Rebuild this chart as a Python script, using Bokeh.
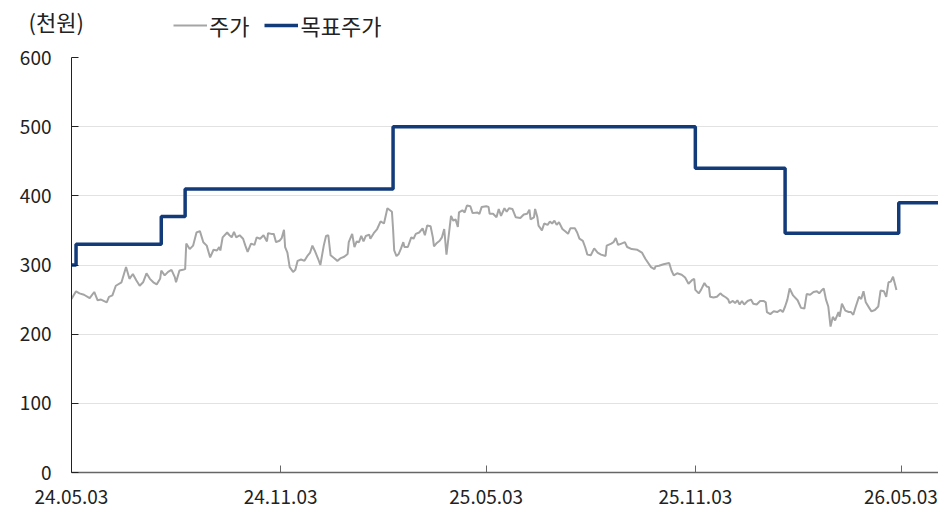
import pandas as pd
from bokeh.plotting import figure
from bokeh.layouts import column
from bokeh.models import (FixedTicker, DatetimeTickFormatter, Legend, LegendItem,
                          Range1d, Label, ColumnDataSource)
from bokeh.embed import file_html
from bokeh.resources import INLINE

START = "2024-05-03"
END_DAY = 763

# 주가 (천원) - day offsets from START and values
price_day = [0, 4, 7, 11, 16, 20, 23, 26, 31, 33, 36, 39, 44, 48, 51, 54, 57, 60, 63, 66, 69, 72, 75, 78, 79,
             82, 85, 88, 91, 92, 95, 98, 100, 101, 104, 107, 110, 113, 116, 119, 122, 125, 128, 130, 131, 133,
             137, 139, 141, 143, 145, 148, 151, 153, 155, 158, 161, 163, 166, 169, 172, 173, 176, 178, 180,
             183, 185, 187, 188, 190, 192, 195, 197, 199, 202, 205, 208, 210, 212, 214, 217, 219, 222, 224,
             226, 228, 231, 234, 237, 240, 243, 244, 247, 249, 251, 253, 255, 257, 259, 262, 263, 266, 269,
             272, 275, 278, 282, 283, 284, 286, 288, 290, 292, 293, 296, 299, 301, 303, 306, 309, 311, 313,
             316, 318, 319, 321, 324, 326, 328, 330, 334, 336, 338, 340, 341, 344, 346, 348, 351, 353, 357,
             359, 361, 365, 367, 368, 371, 374, 376, 378, 381, 383, 385, 388, 391, 395, 398, 401, 403, 404,
             407, 408, 410, 411, 414, 416, 419, 421, 423, 425, 427, 429, 432, 435, 437, 439, 443, 445, 447,
             450, 452, 454, 457, 460, 463, 466, 470, 471, 475, 477, 479, 481, 484, 487, 489, 493, 498, 502,
             505, 510, 513, 514, 517, 521, 526, 528, 530, 533, 537, 540, 543, 546, 548, 549, 552, 554, 557,
             559, 561, 562, 565, 568, 571, 573, 576, 578, 579, 582, 584, 586, 588, 590, 592, 595, 598, 600,
             603, 606, 609, 611, 612, 615, 618, 621, 624, 626, 628, 630, 632, 635, 639, 642, 645, 647, 650,
             653, 656, 658, 660, 662, 664, 666, 668, 670, 672, 675, 676, 678, 681, 684, 686, 688, 690, 693,
             695, 697, 699, 702, 704, 707, 710, 712, 715, 717, 719, 721, 723, 726]
price_val = [251, 262, 259, 257, 252, 261, 249, 250, 246, 254, 256, 270, 275, 297, 280, 287, 278, 270, 275, 288,
             280, 275, 272, 280, 292, 285, 290, 293, 282, 275, 292, 293, 294, 331, 323, 328, 347, 349, 333,
             328, 311, 322, 321, 326, 321, 340, 347, 343, 340, 348, 340, 343, 338, 328, 319, 331, 329, 340,
             338, 343, 334, 346, 345, 345, 333, 335, 339, 351, 326, 318, 297, 290, 293, 306, 308, 306, 314,
             318, 328, 321, 309, 300, 328, 342, 343, 314, 310, 306, 310, 312, 316, 333, 345, 326, 334, 333,
             342, 334, 342, 344, 338, 346, 352, 363, 360, 382, 377, 352, 321, 313, 316, 324, 333, 326, 326,
             340, 338, 345, 347, 353, 343, 357, 356, 340, 327, 331, 335, 340, 352, 315, 371, 364, 366, 355,
             376, 379, 376, 386, 385, 375, 376, 374, 384, 385, 384, 374, 374, 369, 381, 371, 382, 377, 382,
             381, 369, 368, 373, 374, 380, 366, 369, 381, 369, 357, 350, 360, 358, 363, 360, 364, 358, 362,
             352, 348, 345, 353, 353, 347, 338, 335, 326, 315, 314, 324, 318, 315, 313, 328, 331, 333, 339,
             329, 331, 333, 326, 323, 322, 318, 309, 297, 294, 298, 299, 301, 303, 292, 285, 288, 286, 282,
             273, 278, 280, 264, 259, 264, 274, 269, 268, 254, 253, 254, 259, 256, 253, 250, 245, 248, 245,
             249, 243, 248, 243, 248, 250, 244, 243, 248, 248, 246, 232, 229, 233, 232, 235, 232, 240, 250,
             266, 256, 249, 238, 237, 258, 257, 261, 262, 259, 263, 266, 250, 240, 211, 225, 220, 232, 225,
             244, 234, 232, 232, 228, 239, 254, 251, 262, 246, 238, 233, 235, 240, 263, 262, 254, 275, 276,
             283, 264]

# 목표주가 (천원)
target_day = [0, 4, 79, 100, 283, 549, 628, 728, END_DAY]
target_val = [300, 330, 370, 410, 500, 440, 346, 390, 390]

y_ticks = [0, 100, 200, 300, 400, 500, 600]
x_tick_dates = ["2024-05-03", "2024-11-03", "2025-05-03", "2025-11-03", "2026-05-03"]

PRICE_COLOR = "#a5a5a5"
TARGET_COLOR = "#133b7a"
TEXT_COLOR = "#222222"
FONT = "Noto Sans CJK KR"
FS = "19px"
FS_HEAD = "22px"

start = pd.Timestamp(START)
price_src = ColumnDataSource(dict(x=[start + pd.Timedelta(days=d) for d in price_day], y=price_val))
target_src = ColumnDataSource(dict(x=[start + pd.Timedelta(days=d) for d in target_day], y=target_val))

# ---- header (unit label + legend) ----
HEADER_H = 44
h = figure(width=938, height=HEADER_H, output_backend="svg", toolbar_location=None,
           x_range=Range1d(0, 1), y_range=Range1d(0, 1),
           x_axis_location=None, y_axis_location=None, frame_align=False,
           min_border_left=0, min_border_right=0, min_border_top=0, min_border_bottom=0)
h.grid.visible = False
h.outline_line_color = None
leg_price = h.line(x=[5], y=[5], line_color=PRICE_COLOR, line_width=2)
leg_target = h.line(x=[5], y=[5], line_color=TARGET_COLOR, line_width=3.5)
legend = Legend(items=[LegendItem(label="주가", renderers=[leg_price]),
                       LegendItem(label="목표주가", renderers=[leg_target])],
                orientation="horizontal", location=(173, HEADER_H - 41),
                label_text_font=FONT, label_text_font_size=FS_HEAD, label_text_color=TEXT_COLOR,
                glyph_width=34, glyph_height=26, label_standoff=2, spacing=15,
                padding=0, margin=0, border_line_color=None, background_fill_alpha=0)
h.add_layout(legend)
h.add_layout(Label(x=28, y=HEADER_H - 20, x_units="screen", y_units="screen", text="(천원)",
                   text_font=FONT, text_font_size=FS_HEAD, text_color=TEXT_COLOR,
                   text_baseline="middle"))

# ---- main chart ----
p = figure(width=938, height=518 - HEADER_H, x_axis_type="datetime", output_backend="svg",
           toolbar_location=None, frame_align=False,
           x_range=Range1d(start, start + pd.Timedelta(days=END_DAY)), y_range=Range1d(0, 600),
           min_border_left=71, min_border_right=0, min_border_top=57 - HEADER_H, min_border_bottom=46)
p.outline_line_color = None

p.line("x", "y", source=price_src, line_color=PRICE_COLOR, line_width=2)
p.step("x", "y", source=target_src, mode="after", line_color=TARGET_COLOR, line_width=3.5)

p.xgrid.visible = False
p.ygrid.ticker = FixedTicker(ticks=y_ticks)
p.ygrid.grid_line_color = "#c4c4c4"
p.ygrid.grid_line_dash = "1 1"
p.ygrid.grid_line_width = 1

p.yaxis.ticker = FixedTicker(ticks=y_ticks)
p.xaxis.ticker = FixedTicker(ticks=[pd.Timestamp(d).value / 1e6 for d in x_tick_dates])
p.xaxis.formatter = DatetimeTickFormatter(days="%y.%m.%d", months="%y.%m.%d", years="%y.%m.%d")

for ax in (p.xaxis[0], p.yaxis[0]):
    ax.major_label_text_font = FONT
    ax.major_label_text_font_size = FS
    ax.major_label_text_color = TEXT_COLOR
    ax.minor_tick_line_color = None
    ax.major_tick_in = 7
    ax.major_tick_out = 0
p.yaxis.axis_line_color = TEXT_COLOR
p.yaxis.major_tick_line_color = TEXT_COLOR
p.yaxis.major_label_standoff = 20
p.xaxis.axis_line_color = "#666666"
p.xaxis.axis_line_width = 1.5
p.xaxis.major_tick_line_color = "#666666"
p.xaxis.major_label_standoff = 17

open("out.html", "w").write(file_html(column(h, p, spacing=0), INLINE))
